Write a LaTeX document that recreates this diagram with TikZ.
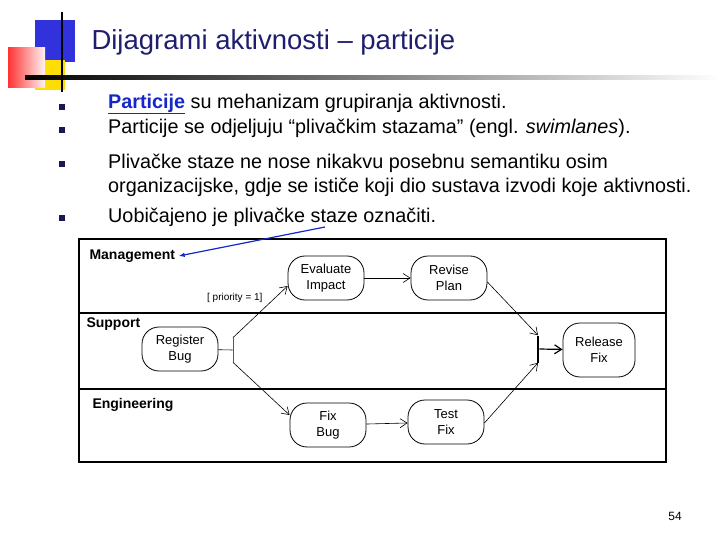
\documentclass[tikz,border=0pt]{standalone}
\usepackage{fontspec}
\setmainfont{Liberation Sans}
\usetikzlibrary{arrows.meta}
\definecolor{navy}{RGB}{30,30,110}
\definecolor{lnk}{RGB}{20,40,200}
\definecolor{decblue}{RGB}{50,50,220}
\begin{document}
\begin{tikzpicture}[x=1pt,y=-1pt,
 act/.style={draw,rounded corners=17pt,minimum width=76pt,minimum height=44pt,align=center,font=\fontsize{13}{16}\selectfont,line width=0.8pt},
 lane/.style={font=\bfseries\fontsize{14}{16}\selectfont,anchor=west},
 flow/.style={-{Straight Barb[length=7pt,width=9pt]},line width=0.6pt},
 bul/.style={fill=navy!80!black,minimum size=6pt,inner sep=0pt},
 txt/.style={anchor=west,font=\fontsize{19.8}{22}\selectfont,inner sep=0pt}]
\useasboundingbox (0,0) rectangle (720,540);
% decoration
\fill[decblue] (35,20) rectangle (75,62);
\fill[yellow!80!orange] (35,60) rectangle (65,90);
\shade[left color=red!80, right color=red!5] (8,48) rectangle (45,88);
\shade[left color=black, right color=white] (25,76) rectangle (720,80);
\draw[line width=2.5pt] (62,12) -- (62,92);
\node[anchor=west,text=navy,font=\fontsize{27.5}{30}\selectfont] (title) at (88,42) {Dijagrami aktivnosti – particije};
% bullets
\foreach \y/\n in {107/b1,130/b2,164/b3,218/b4}{\node[bul] (\n) at (62,\y) {};}
\node[txt] (t1) at (108,104) {\textcolor{lnk}{\bfseries\underline{Particije}} su mehanizam grupiranja aktivnosti.};
\node[txt] (t2) at (108,128) {Particije se odjeljuju “plivačkim stazama” (engl. \textit{swimlanes}).};
\node[txt] (t3) at (108,163) {Plivačke staze ne nose nikakvu posebnu semantiku osim};
\node[txt] (t3b) at (108,187) {organizacijske, gdje se ističe koji dio sustava izvodi koje aktivnosti.};
\node[txt] (t4) at (108,217) {Uobičajeno je plivačke staze označiti.};
% frame
\draw[line width=1.5pt] (79,239) rectangle (666,462);
\draw[line width=1.5pt] (79,313) -- (666,313);
\draw[line width=1.5pt] (79,389) -- (666,389);
\node[lane] (m) at (86,256) {Management};
\node[lane] (s) at (83,324) {Support};
\node[lane] (e) at (89,405) {Engineering};
\node[act] (ei) at (326,278) {Evaluate\\Impact};
\node[act] (rp) at (449,278) {Revise\\Plan};
\node[act] (rb) at (180,349) {Register\\Bug};
\node[act,minimum width=72pt,minimum height=54pt] (rf) at (599,350) {Release\\Fix};
\node[act] (fb) at (328,425) {Fix\\Bug};
\node[act] (tf) at (446,422) {Test\\Fix};
\node[draw,line width=0.8pt,minimum width=0pt,minimum height=24pt,inner sep=0pt] (fork) at (233,350) {};
\node[fill,minimum width=2.5pt,minimum height=27pt,inner sep=0pt] (join) at (538,349) {};
\draw[line width=0.6pt] (rb) -- (fork);
\draw[flow] (fork.north) -- (ei.west|-0,286);
\draw[flow] (fork.south) -- (fb.west|-0,415);
\draw[flow] (ei) -- (rp);
\draw[flow] (fb) -- (tf);
\draw[flow] (rp.east|-0,282) -- (join.north);
\draw[flow] (tf.east|-0,423) -- (join.south);
\draw[flow,line width=1.2pt] (join) -- (rf);
\node[font=\fontsize{10}{11}\selectfont,anchor=east] (pr) at (266,298) {[ priority = 1]};
\coordinate (ar) at (325,227);
\draw[-{Latex[length=6pt]},lnk,line width=1.2pt] (ar) -- (m.east);
\node[font=\fontsize{12}{13}\selectfont] (pg) at (675,516) {54};
\end{tikzpicture}
\end{document}
